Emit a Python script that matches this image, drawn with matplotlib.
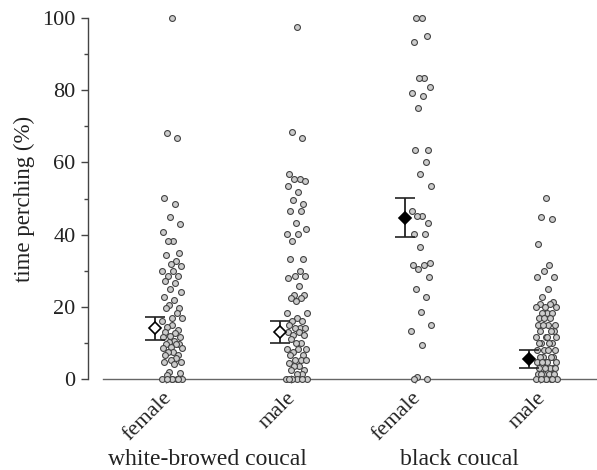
"""Time perching per species and sex (strip plot with mean +/- SE)"""

import matplotlib
matplotlib.use("Agg")
import matplotlib.pyplot as plt
import matplotlib.transforms as mtransforms
import numpy as np

plt.rcParams["font.family"] = ["Liberation Serif", "DejaVu Serif"]

# Groups and tick labels
sex_labels = ["female", "male", "female", "male"]
species_labels = ["white-browed coucal", "black coucal"]

# Individual values (% time perching)
wb_female = [100, 68.1, 66.7, 50.2, 48.4, 45, 42.8, 40.6, 38.3, 38.3, 35, 34.3,
             32.7, 31.8, 31.3, 30, 30, 28.5, 28.5, 27.1, 26.5, 24.9, 24.2, 22.8,
             21.9, 20.5, 19.7, 19.7, 18.4, 16.8, 16.8, 16.2, 15, 14.5, 13.6, 13,
             12.7, 12, 11.7, 11.7, 10.6, 10.2, 9.7, 9.7, 9.7, 9, 8.5, 8.5, 7.6,
             7.6, 6.6, 6.6, 5.7, 5.2, 4.8, 4.8, 4.2, 2.0, 1.7, 1.2,
             0, 0, 0, 0, 0, 0, 0]
wb_male = [97.6, 68.3, 66.7, 56.8, 55.3, 55.3, 54.9, 53.5, 51.7, 49.6, 48.4,
           46.6, 46.6, 43.3, 41.5, 40.1, 40.1, 38.3, 33.2, 33.2, 30, 28.6, 28.6,
           27.9, 25.8, 23.3, 23.3, 22.4, 22.4, 21.6, 18.4, 18.4, 16.8, 16.1,
           16.1, 15, 14.1, 14.1, 14.1, 13.1, 13.1, 12.2, 12.2, 11, 9.9, 9.9,
           8.2, 8.2, 8.2, 7.4, 6.6, 6.6, 5.3, 5.3, 5.3, 4.5, 3.7, 3.7, 2.5, 2.5,
           1.4, 1.4, 0, 0, 0, 0, 0, 0]
bc_female = [100, 100, 95.1, 93.4, 83.4, 83.4, 80.9, 79.2, 78.3, 75.1, 63.3,
             63.3, 60, 56.7, 53.4, 46.6, 45.2, 45.2, 43.3, 40.1, 40.1, 36.7,
             32.2, 31.5, 31.5, 30.5, 28.3, 24.9, 22.8, 18.6, 15, 13.4, 9.4, 0.6,
             0, 0]
bc_male = [50.2, 45, 44.2, 37.5, 31.6, 30, 28.3, 28.3, 24.9, 22.8, 21.4, 20.8,
           20.8, 19.9, 19.9, 19.9, 18.2, 18.2, 18.2, 16.8, 16.8, 16.8, 15, 15,
           15, 15, 13.3, 13.3, 13.3, 11.7, 11.7, 11.7, 11.7, 9.9, 9.9, 9.9, 9.9,
           8, 8, 8, 8, 6.2, 6.2, 6.2, 6.2, 4.6, 4.6, 4.6, 4.6, 4.6, 3, 3, 3, 3,
           3, 1.4, 1.4, 1.4, 1.4, 1.4, 0, 0, 0, 0, 0, 0, 0]

# Means and SE bounds
means = [14.2, 13.1, 44.5, 5.5]
se_low = [10.8, 10.1, 39.2, 3.0]
se_high = [17.3, 16.1, 50.1, 8.0]
mean_fill = ["white", "white", "black", "black"]

groups = [wb_female, wb_male, bc_female, bc_male]


def vdc(n, base=2):
    # van der Corput sequence, used to spread the points sideways
    v, denom = 0.0, 1.0
    while n:
        n, rem = divmod(n, base)
        denom *= base
        v += rem / denom
    return v


fig = plt.figure(figsize=(5.97, 4.70), dpi=100)
ax = fig.add_axes([0.1474, 0.1936, 0.8526, 0.7681])

pos = np.arange(len(groups))
for i, vals in enumerate(groups):
    offs = np.array([vdc(k + 1) - 0.5 for k in range(len(vals))]) * 0.17 + 0.05
    ax.scatter(pos[i] + offs, vals, s=18, facecolor="#cccccc", edgecolor="#444444",
               linewidth=0.8, zorder=3, clip_on=False)
    ax.errorbar(pos[i] - 0.085, means[i],
                yerr=[[means[i] - se_low[i]], [se_high[i] - means[i]]],
                fmt="D", markersize=6, markerfacecolor=mean_fill[i],
                markeredgecolor="black", markeredgewidth=1.2, ecolor="#222222",
                elinewidth=1.3, capsize=7, capthick=1.3, zorder=4)

ax.set_xlim(-0.625, 3.457)
ax.set_ylim(0, 100)

for s in ["top", "right"]:
    ax.spines[s].set_visible(False)
ax.spines["left"].set_color("#444444")
ax.spines["bottom"].set_color("#666666")
ax.spines["left"].set_linewidth(1.0)
ax.spines["bottom"].set_linewidth(1.0)
ax.spines["bottom"].set_bounds(-0.505, 3.457)

ax.set_yticks(np.arange(0, 101, 20))
ax.set_yticks(np.arange(10, 100, 20), minor=True)
ax.tick_params(axis="y", which="major", direction="out", length=5, width=1,
               color="#444444", labelsize=16, pad=4, labelcolor="#222222")
ax.tick_params(axis="y", which="minor", direction="out", length=3, width=1,
               color="#444444")

ax.set_xticks(pos)
ax.set_xticklabels(sex_labels, rotation=45, ha="right", va="top",
                   rotation_mode="anchor")
ax.tick_params(axis="x", direction="inout", length=6, width=1, color="#666666",
               labelsize=16, pad=4, labelcolor="#222222")
shift = mtransforms.ScaledTranslation(-3 / 72, 0, fig.dpi_scale_trans)
for lab in ax.get_xticklabels():
    lab.set_transform(lab.get_transform() + shift)

ax.set_ylabel("time perching (%)", fontsize=16.5, color="#222222", labelpad=5)

trans = mtransforms.blended_transform_factory(ax.transData, fig.transFigure)
ax.text(0.33, 0.022, species_labels[0], transform=trans, ha="center",
        va="center", fontsize=17, color="#222222")
ax.text(2.35, 0.022, species_labels[1], transform=trans, ha="center",
        va="center", fontsize=17, color="#222222")

fig.savefig("out.png", dpi=100)
